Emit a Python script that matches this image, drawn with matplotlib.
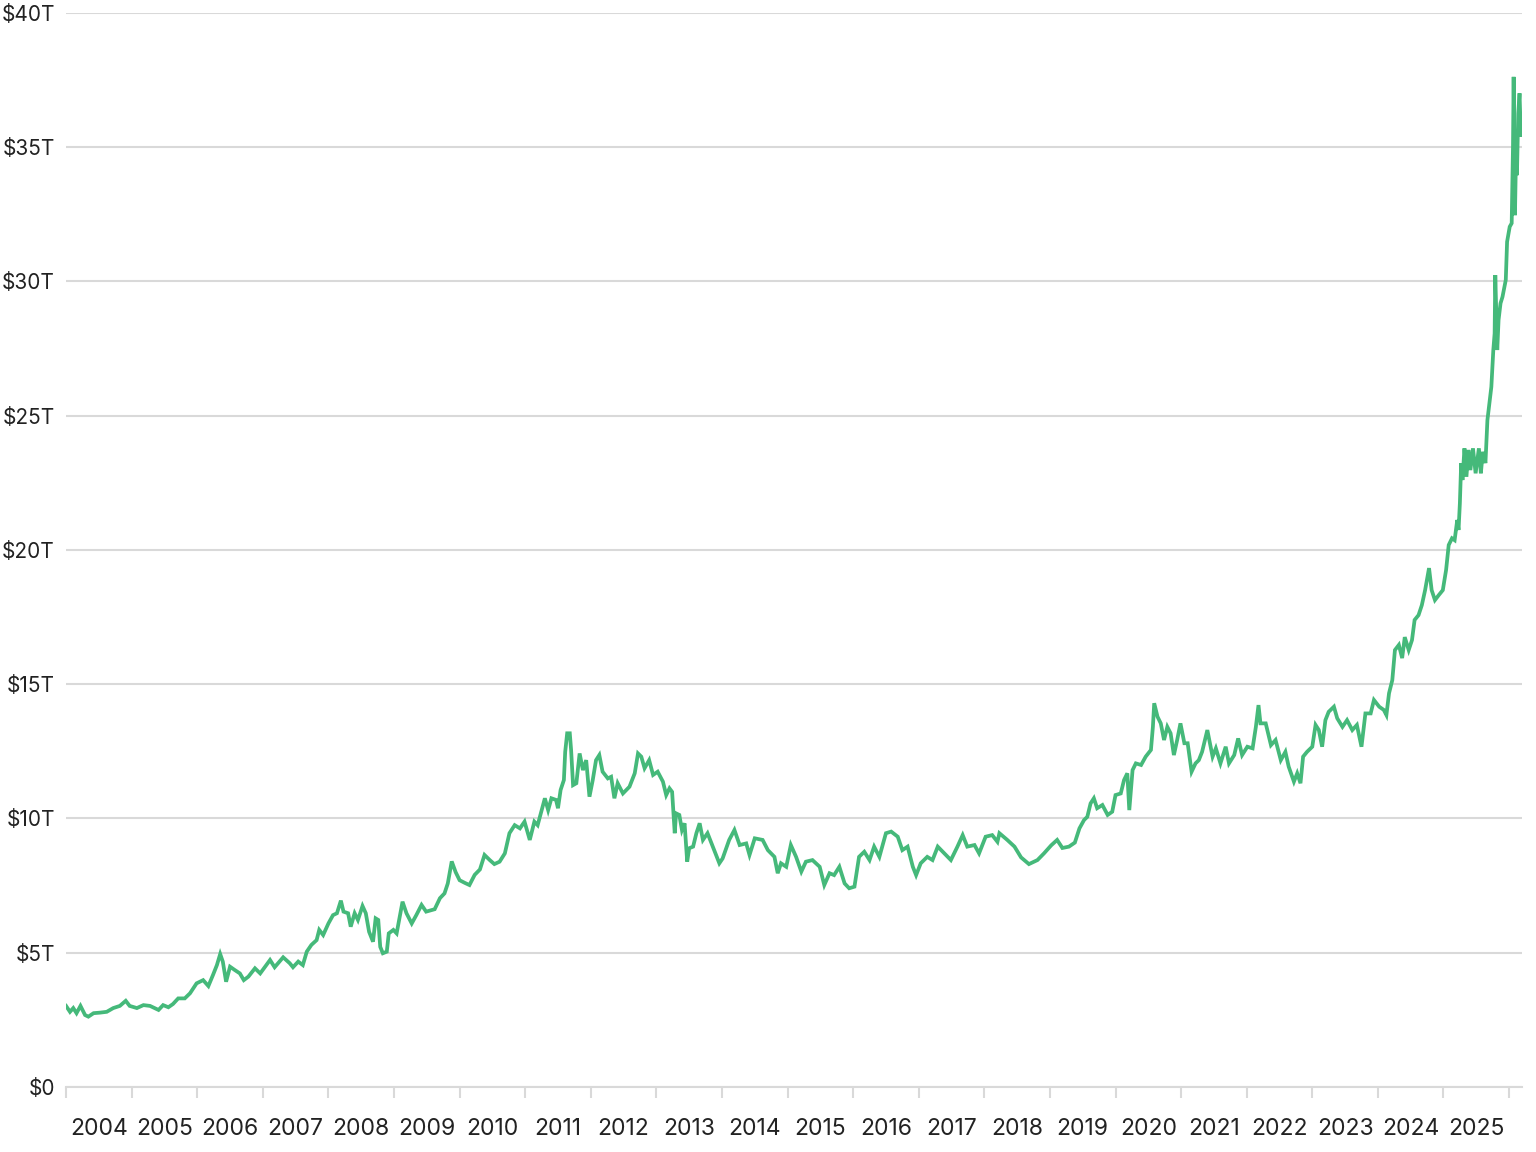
import matplotlib.pyplot as plt
from matplotlib.ticker import FixedLocator, FuncFormatter

# decimal year, market value in trillions of dollars
years = [
    2004.00, 2004.06, 2004.11, 2004.16, 2004.22, 2004.29, 2004.34, 2004.42, 2004.52, 2004.62,
    2004.72, 2004.82, 2004.91, 2004.97, 2005.08, 2005.18, 2005.28, 2005.41, 2005.48, 2005.56,
    2005.63, 2005.71, 2005.81, 2005.89, 2005.99, 2006.09, 2006.17, 2006.24, 2006.30, 2006.35,
    2006.39, 2006.44, 2006.50, 2006.57, 2006.65, 2006.71, 2006.78, 2006.88, 2006.96, 2007.11,
    2007.18, 2007.31, 2007.41, 2007.46, 2007.54, 2007.61, 2007.67, 2007.74, 2007.82, 2007.86,
    2007.92, 2008.00, 2008.07, 2008.13, 2008.19, 2008.23, 2008.30, 2008.34, 2008.40, 2008.45,
    2008.52, 2008.57, 2008.62, 2008.68, 2008.72, 2008.76, 2008.79, 2008.83, 2008.89, 2008.92,
    2008.99, 2009.04, 2009.13, 2009.19, 2009.27, 2009.34, 2009.42, 2009.49, 2009.62, 2009.70,
    2009.77, 2009.82, 2009.88, 2009.94, 2010.00, 2010.08, 2010.15, 2010.23, 2010.31, 2010.38,
    2010.46, 2010.53, 2010.61, 2010.69, 2010.76, 2010.84, 2010.92, 2010.99, 2011.07, 2011.14,
    2011.19, 2011.30, 2011.35, 2011.40, 2011.47, 2011.50, 2011.54, 2011.59, 2011.61, 2011.64,
    2011.68, 2011.70, 2011.73, 2011.78, 2011.83, 2011.88, 2011.93, 2011.98, 2012.03, 2012.08,
    2012.13, 2012.18, 2012.26, 2012.31, 2012.36, 2012.41, 2012.49, 2012.59, 2012.67, 2012.72,
    2012.77, 2012.82, 2012.89, 2012.95, 2013.02, 2013.10, 2013.15, 2013.20, 2013.24, 2013.28,
    2013.30, 2013.35, 2013.39, 2013.43, 2013.47, 2013.50, 2013.56, 2013.61, 2013.66, 2013.71,
    2013.78, 2013.86, 2013.96, 2014.01, 2014.11, 2014.19, 2014.27, 2014.37, 2014.42, 2014.50,
    2014.62, 2014.70, 2014.80, 2014.85, 2014.90, 2014.98, 2015.05, 2015.13, 2015.21, 2015.28,
    2015.38, 2015.49, 2015.56, 2015.64, 2015.71, 2015.79, 2015.87, 2015.94, 2016.02, 2016.09,
    2016.17, 2016.25, 2016.32, 2016.40, 2016.50, 2016.58, 2016.68, 2016.75, 2016.83, 2016.91,
    2016.96, 2017.03, 2017.13, 2017.21, 2017.29, 2017.39, 2017.49, 2017.59, 2017.67, 2017.74,
    2017.85, 2017.92, 2018.02, 2018.12, 2018.20, 2018.23, 2018.35, 2018.46, 2018.56, 2018.68,
    2018.81, 2018.91, 2019.02, 2019.11, 2019.19, 2019.29, 2019.38, 2019.45, 2019.52, 2019.57,
    2019.62, 2019.67, 2019.72, 2019.80, 2019.88, 2019.95, 2020.00, 2020.08, 2020.13, 2020.18,
    2020.21, 2020.26, 2020.31, 2020.39, 2020.46, 2020.54, 2020.57, 2020.59, 2020.64, 2020.69,
    2020.74, 2020.79, 2020.84, 2020.89, 2020.94, 2020.99, 2021.05, 2021.10, 2021.16, 2021.22,
    2021.27, 2021.32, 2021.40, 2021.48, 2021.53, 2021.60, 2021.68, 2021.73, 2021.81, 2021.87,
    2021.93, 2022.01, 2022.09, 2022.14, 2022.18, 2022.21, 2022.29, 2022.37, 2022.44, 2022.52,
    2022.59, 2022.64, 2022.72, 2022.77, 2022.82, 2022.86, 2022.92, 2023.00, 2023.05, 2023.10,
    2023.15, 2023.20, 2023.25, 2023.33, 2023.38, 2023.46, 2023.53, 2023.61, 2023.68, 2023.75,
    2023.81, 2023.89, 2023.94, 2024.02, 2024.09, 2024.13, 2024.17, 2024.22, 2024.26, 2024.32,
    2024.37, 2024.41, 2024.47, 2024.52, 2024.56, 2024.62, 2024.67, 2024.72, 2024.78, 2024.82,
    2024.87, 2024.93, 2024.99, 2025.04, 2025.08, 2025.13, 2025.17, 2025.21, 2025.23, 2025.25,
    2025.27, 2025.29, 2025.32, 2025.35, 2025.38, 2025.41, 2025.45, 2025.49, 2025.54, 2025.57,
    2025.60, 2025.64, 2025.67, 2025.70, 2025.73, 2025.76, 2025.78, 2025.79, 2025.82, 2025.84,
    2025.87, 2025.90, 2025.95, 2025.97, 2026.01, 2026.04, 2026.06, 2026.07, 2026.09, 2026.11,
    2026.12, 2026.14, 2026.16, 2026.18, 2026.20,
]
value_t = [
    3.02, 2.80, 2.94, 2.75, 3.02, 2.68, 2.62, 2.75, 2.77, 2.80,
    2.94, 3.02, 3.21, 3.02, 2.94, 3.05, 3.02, 2.87, 3.05, 2.97,
    3.09, 3.30, 3.30, 3.49, 3.86, 3.98, 3.76, 4.17, 4.54, 4.95,
    4.67, 3.92, 4.48, 4.36, 4.23, 3.98, 4.11, 4.42, 4.23, 4.73,
    4.46, 4.83, 4.61, 4.46, 4.67, 4.54, 5.04, 5.29, 5.47, 5.85,
    5.66, 6.09, 6.40, 6.47, 6.94, 6.53, 6.47, 5.97, 6.47, 6.22,
    6.74, 6.47, 5.78, 5.41, 6.28, 6.22, 5.22, 4.98, 5.04, 5.72,
    5.85, 5.72, 6.90, 6.47, 6.09, 6.40, 6.78, 6.53, 6.62, 7.03,
    7.21, 7.58, 8.40, 8.00, 7.70, 7.60, 7.52, 7.90, 8.10, 8.64,
    8.45, 8.30, 8.39, 8.70, 9.45, 9.75, 9.63, 9.88, 9.20, 9.88,
    9.75, 10.75, 10.31, 10.75, 10.69, 10.38, 11.06, 11.43, 12.48, 13.17,
    13.17, 12.55, 11.24, 11.31, 12.42, 11.80, 12.17, 10.81, 11.43, 12.17,
    12.36, 11.74, 11.49, 11.55, 10.75, 11.31, 10.93, 11.18, 11.68, 12.42,
    12.30, 11.87, 12.17, 11.62, 11.74, 11.37, 10.87, 11.12, 10.99, 9.45,
    10.19, 10.13, 9.57, 9.82, 8.39, 8.89, 8.95, 9.45, 9.82, 9.20,
    9.45, 8.95, 8.33, 8.51, 9.20, 9.57, 9.01, 9.07, 8.64, 9.26,
    9.20, 8.82, 8.57, 7.96, 8.33, 8.20, 9.01, 8.57, 8.02, 8.39,
    8.45, 8.20, 7.52, 7.96, 7.89, 8.20, 7.58, 7.40, 7.46, 8.57,
    8.76, 8.45, 8.95, 8.57, 9.45, 9.51, 9.32, 8.82, 8.95, 8.20,
    7.89, 8.33, 8.57, 8.45, 8.95, 8.70, 8.45, 8.95, 9.38, 8.95,
    9.01, 8.70, 9.32, 9.38, 9.13, 9.45, 9.20, 8.95, 8.55, 8.30,
    8.45, 8.70, 9.00, 9.20, 8.90, 8.95, 9.10, 9.63, 9.94, 10.06,
    10.56, 10.75, 10.38, 10.50, 10.13, 10.25, 10.87, 10.93, 11.43, 11.68,
    10.31, 11.80, 12.05, 11.99, 12.30, 12.55, 13.41, 14.29, 13.79, 13.54,
    12.92, 13.41, 13.17, 12.36, 12.92, 13.54, 12.80, 12.80, 11.74, 12.05,
    12.17, 12.48, 13.29, 12.30, 12.61, 12.05, 12.67, 12.05, 12.36, 12.98,
    12.36, 12.67, 12.61, 13.41, 14.22, 13.54, 13.54, 12.73, 12.92, 12.17,
    12.48, 11.93, 11.37, 11.68, 11.31, 12.30, 12.48, 12.67, 13.48, 13.29,
    12.67, 13.66, 13.97, 14.16, 13.73, 13.41, 13.66, 13.29, 13.48, 12.67,
    13.91, 13.91, 14.41, 14.16, 14.04, 13.85, 14.66, 15.15, 16.27, 16.46,
    15.97, 16.75, 16.27, 16.64, 17.39, 17.57, 17.94, 18.50, 19.32, 18.50,
    18.13, 18.32, 18.50, 19.25, 20.18, 20.43, 20.36, 21.11, 20.74, 21.73,
    23.23, 22.60, 23.78, 22.72, 23.72, 22.97, 23.78, 22.85, 23.78, 22.85,
    23.65, 23.23, 24.83, 25.45, 26.07, 27.44, 28.06, 30.23, 27.44, 28.56,
    29.18, 29.42, 30.05, 31.47, 32.03, 32.16, 35.01, 37.61, 32.46, 35.26,
    33.95, 36.25, 37.00, 35.38, 35.94,
]
year_labels = [str(y) for y in range(2004, 2026)]
y_ticks = [0, 5, 10, 15, 20, 25, 30, 35, 40]

plt.rcParams['font.family'] = ['Inter', 'DejaVu Sans']

fig = plt.figure(figsize=(15.36, 11.52), dpi=100)
ax = fig.add_axes([0.043, 0.0564, 0.948, 0.9326])

ax.plot(years, value_t, color="#45b97a", linewidth=2.7, solid_joinstyle="miter")

ax.set_xlim(2004.0, 2026.2)
ax.set_ylim(0, 40)

# year boundaries get tick marks, labels sit in the middle of each year
ax.xaxis.set_major_locator(FixedLocator(list(range(2004, 2027))))
ax.xaxis.set_minor_locator(FixedLocator([y + 0.5 for y in range(2004, 2026)]))
ax.set_xticklabels([], minor=False)
ax.set_xticklabels(year_labels, minor=True)
ax.tick_params(axis="x", which="major", length=8, width=1.5, color="#d9d9d9")
ax.tick_params(axis="x", which="minor", length=0, pad=22, labelsize=16.5, labelcolor="#222222")

ax.yaxis.set_major_locator(FixedLocator(y_ticks))
ax.yaxis.set_major_formatter(FuncFormatter(lambda v, p: f"${int(v)}T" if v > 0 else "$0"))
ax.tick_params(axis="y", length=0, pad=8, labelsize=15, labelcolor="#222222")
ax.grid(axis="y", color="#d9d9d9", linewidth=1.5)
ax.set_axisbelow(True)

for side in ["top", "right", "left"]:
    ax.spines[side].set_visible(False)
ax.spines["bottom"].set_color("#d9d9d9")
ax.spines["bottom"].set_linewidth(1.5)

plt.savefig("out.png", dpi=100)
plt.close()
